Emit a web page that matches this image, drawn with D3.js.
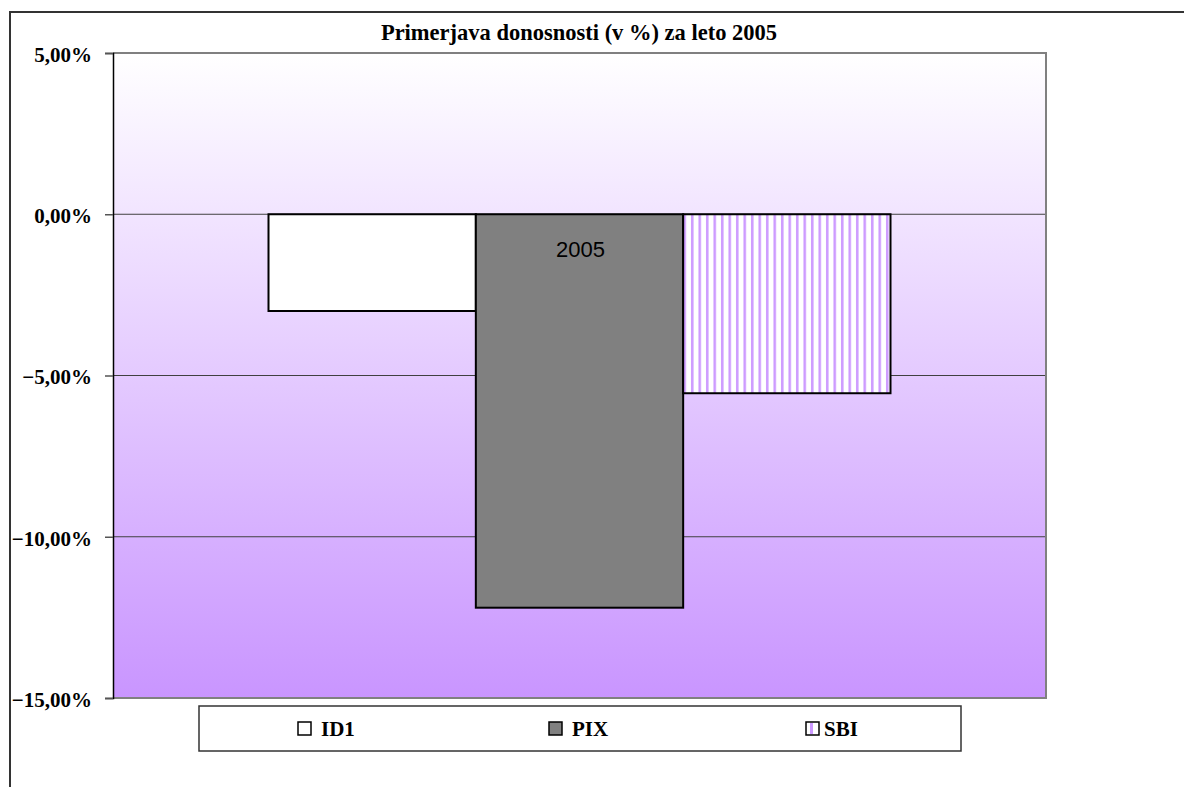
<!DOCTYPE html>
<html>
<head>
<meta charset="utf-8">
<script src="https://cdn.jsdelivr.net/npm/d3@7"></script>
<style>
  body { margin: 0; background: #fff; }
  svg { display: block; }
</style>
</head>
<body>
<svg width="1184" height="787"></svg>
<script>
// chart data
const years = ["2005"];
const series = ["ID1", "PIX", "SBI"];
const returns2005 = [-3.0, -12.2, -5.55];
const yTicks = [5, 0, -5, -10, -15];
const titleText = "Primerjava donosnosti (v %) za leto 2005";

const svg = d3.select("svg");
const defs = svg.append("defs");

// plot area box
const plotLeft = 113, plotTop = 53, plotRight = 1046, plotBottom = 698;

// outer chart frame
svg.append("rect")
    .attr("x", 10).attr("y", 12)
    .attr("width", 1300).attr("height", 900)
    .attr("fill", "#fff")
    .attr("stroke", "#333").attr("stroke-width", 2);

// background gradient
const grad = defs.append("linearGradient")
    .attr("id", "bg").attr("x1", 0).attr("y1", 0).attr("x2", 0).attr("y2", 1);
grad.append("stop").attr("offset", "0%").attr("stop-color", "#ffffff");
grad.append("stop").attr("offset", "100%").attr("stop-color", "#c995ff");

// vertical stripes for SBI
const pat = defs.append("pattern")
    .attr("id", "stripes").attr("patternUnits", "userSpaceOnUse")
    .attr("width", 7.5).attr("height", 10);
pat.append("rect").attr("width", 7.5).attr("height", 10).attr("fill", "#fff");
pat.append("rect").attr("x", 1).attr("width", 2.5).attr("height", 10).attr("fill", "#cc99ff");

const y = d3.scaleLinear().domain([-15, 5]).range([plotBottom, plotTop]);
const x0 = d3.scaleBand().domain(years).range([plotLeft, plotRight]).paddingInner(0).paddingOuter(0.25);
const x1 = d3.scaleBand().domain(series).range([0, x0.bandwidth()]).padding(0);

const fills = { ID1: "#ffffff", PIX: "#808080", SBI: "url(#stripes)" };

svg.append("rect")
    .attr("x", plotLeft).attr("y", plotTop)
    .attr("width", plotRight - plotLeft).attr("height", plotBottom - plotTop)
    .attr("fill", "url(#bg)");

// gridlines
svg.append("g")
    .selectAll("line")
    .data(yTicks.filter(t => t > -15 && t < 5))
    .enter().append("line")
    .attr("x1", plotLeft).attr("x2", plotRight)
    .attr("y1", d => y(d)).attr("y2", d => y(d))
    .attr("stroke", "#404040").attr("stroke-width", 1);

// plot border (top, right, bottom)
svg.append("path")
    .attr("d", `M${plotLeft},${plotTop} H${plotRight} V${plotBottom} H${plotLeft}`)
    .attr("fill", "none")
    .attr("stroke", "#808080").attr("stroke-width", 2);

// bars
const bars = series.map((s, i) => ({ name: s, value: returns2005[i], year: years[0] }));
svg.append("g")
    .selectAll("rect")
    .data(bars)
    .enter().append("rect")
    .attr("x", d => x0(d.year) + x1(d.name))
    .attr("y", d => y(Math.max(0, d.value)))
    .attr("width", x1.bandwidth())
    .attr("height", d => Math.abs(y(d.value) - y(0)))
    .attr("fill", d => fills[d.name])
    .attr("stroke", "#000").attr("stroke-width", 2);

// category label inside PIX bar
svg.append("text")
    .attr("x", x0(years[0]) + x1("PIX") + x1.bandwidth() / 2 + 1)
    .attr("y", y(0) + 43)
    .attr("text-anchor", "middle")
    .attr("font-family", "Liberation Sans, Arial, sans-serif")
    .attr("font-size", 22)
    .attr("fill", "#000")
    .text(years[0]);

// y axis
const fmt = d => d3.format(".2f")(d).replace(".", ",") + "%";
const yAxis = d3.axisLeft(y).tickValues(yTicks).tickSize(8).tickPadding(13).tickFormat(fmt);
const ag = svg.append("g")
    .attr("transform", `translate(${plotLeft},0)`)
    .call(yAxis);
ag.select(".domain").attr("stroke", "#000").attr("stroke-width", 1.5);
ag.selectAll(".tick line").attr("stroke", "#555").attr("stroke-width", 1.5);
ag.selectAll(".tick text")
    .attr("font-family", "Liberation Serif, Times New Roman, serif")
    .attr("font-weight", "bold")
    .attr("font-size", 21)
    .attr("dy", "0.4em")
    .attr("fill", "#000");

// title
svg.append("text")
    .attr("x", 579).attr("y", 40)
    .attr("text-anchor", "middle")
    .attr("font-family", "Liberation Serif, Times New Roman, serif")
    .attr("font-weight", "bold")
    .attr("font-size", 22.5)
    .text(titleText);

// legend
const legend = svg.append("g");
legend.append("rect")
    .attr("x", 199).attr("y", 706)
    .attr("width", 762).attr("height", 45)
    .attr("fill", "#fff")
    .attr("stroke", "#333").attr("stroke-width", 1.5);

const legendX = [298, 549, 806];
const items = legend.selectAll("g.item")
    .data(series)
    .enter().append("g")
    .attr("class", "item")
    .attr("transform", (d, i) => `translate(${legendX[i]},722)`);
items.append("rect")
    .attr("width", 13).attr("height", 13)
    .attr("fill", d => d === "SBI" ? "#fff" : fills[d])
    .attr("stroke", "#000").attr("stroke-width", 1.5);
items.filter(d => d === "SBI").append("rect")
    .attr("x", 4).attr("y", 1).attr("width", 3).attr("height", 11)
    .attr("fill", "#cc99ff");
items.append("text")
    .attr("x", (d, i) => i === 2 ? 18 : 23).attr("y", 14)
    .attr("font-family", "Liberation Serif, Times New Roman, serif")
    .attr("font-weight", "bold")
    .attr("font-size", 21)
    .text(d => d);
</script>
</body>
</html>
